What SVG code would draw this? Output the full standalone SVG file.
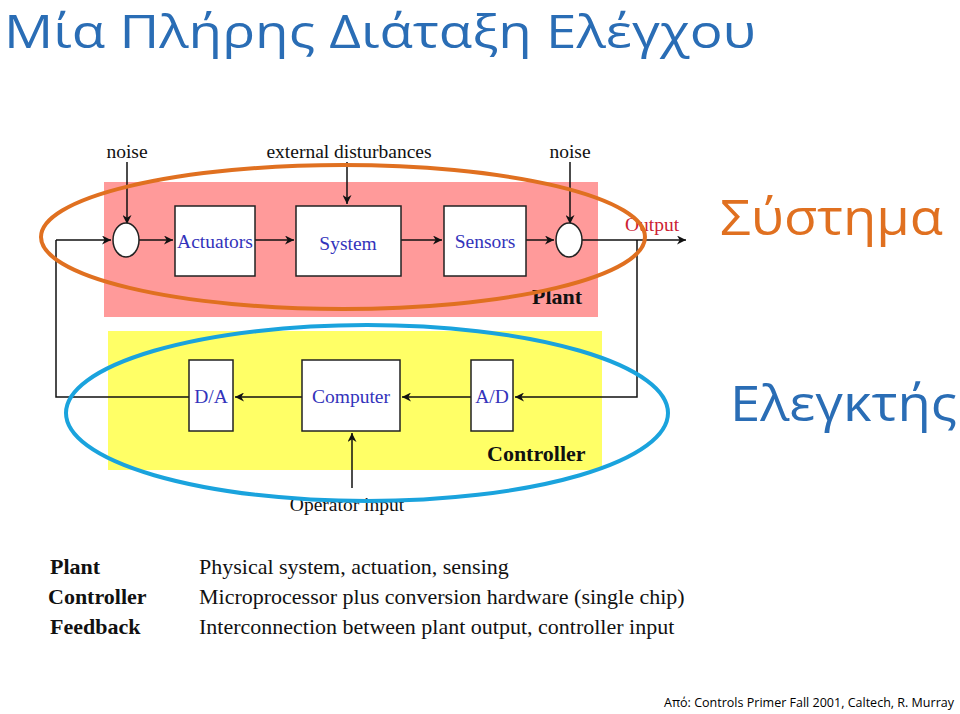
<svg xmlns="http://www.w3.org/2000/svg" width="960" height="714" viewBox="0 0 960 714">
<style>
.blk{fill:#fff;stroke:#222;stroke-width:1.5}
.lbl{font-family:"Liberation Serif",serif;font-size:19.5px;fill:#3333bb;text-anchor:middle}
.sm{font-family:"Liberation Serif",serif;font-size:19.5px;fill:#111;text-anchor:middle}
.bd{font-family:"Liberation Serif",serif;font-size:22px;font-weight:bold;fill:#111}
.tb{font-family:"Liberation Serif",serif;font-size:22px;fill:#111}
.ln{stroke:#111;stroke-width:1.5;fill:none}
.big{font-family:"Open Sans","Liberation Sans",sans-serif}
</style>
<defs>
<marker id="ah" viewBox="0 0 10 10" refX="10" refY="5" markerWidth="9" markerHeight="9" markerUnits="userSpaceOnUse" orient="auto"><path d="M0,0 L10,5 L0,10 L3,5 z" fill="#111"/></marker>
</defs>
<rect width="960" height="714" fill="#fff"/>
<text class="big" x="4" y="48" font-size="46" fill="#2a6db5" textLength="752" lengthAdjust="spacingAndGlyphs">Μία Πλήρης Διάταξη Ελέγχου</text>
<rect x="104" y="182" width="494" height="135" fill="#ff9a9a"/>
<rect x="108" y="331" width="494" height="139" fill="#ffff66"/>
<g id="connectors">
<path class="ln" d="M56,240 H111" marker-end="url(#ah)"/>
<path class="ln" d="M139,240 H173" marker-end="url(#ah)"/>
<path class="ln" d="M255,240 H294" marker-end="url(#ah)"/>
<path class="ln" d="M401,240 H442" marker-end="url(#ah)"/>
<path class="ln" d="M526,240 H554" marker-end="url(#ah)"/>
<path class="ln" d="M582,240 H686" marker-end="url(#ah)"/>
<path class="ln" d="M127,162 V224" marker-end="url(#ah)"/>
<path class="ln" d="M570,162 V224" marker-end="url(#ah)"/>
<path class="ln" d="M347,162 V204" marker-end="url(#ah)"/>
<path class="ln" d="M637,240 V397 H515" marker-end="url(#ah)"/>
<path class="ln" d="M471,397 H402" marker-end="url(#ah)"/>
<path class="ln" d="M302,397 H235" marker-end="url(#ah)"/>
<path class="ln" d="M189,397 H56 V240"/>
<path class="ln" d="M352,488 V433" marker-end="url(#ah)"/>
</g>
<g id="sum1"><ellipse cx="126" cy="240" rx="13" ry="17" class="blk"/></g>
<g id="sum2"><ellipse cx="569" cy="240" rx="13" ry="17" class="blk"/></g>
<g id="actuators"><rect class="blk" x="175" y="206" width="80" height="70"/><text class="lbl" x="215" y="248">Actuators</text></g>
<g id="system"><rect class="blk" x="296" y="206" width="105" height="70"/><text class="lbl" x="348" y="250" font-size="22">System</text></g>
<g id="sensors"><rect class="blk" x="444" y="206" width="82" height="70"/><text class="lbl" x="485" y="248">Sensors</text></g>
<g id="da"><rect class="blk" x="189" y="360" width="44" height="71"/><text class="lbl" x="211" y="403">D/A</text></g>
<g id="computer"><rect class="blk" x="302" y="360" width="98" height="71"/><text class="lbl" x="351" y="403">Computer</text></g>
<g id="ad"><rect class="blk" x="471" y="360" width="42" height="71"/><text class="lbl" x="492" y="403">A/D</text></g>
<text class="sm" x="127" y="158">noise</text>
<text class="sm" x="349" y="158">external disturbances</text>
<text class="sm" x="570" y="158">noise</text>
<text class="sm" x="652" y="231" style="fill:#cc2233">Output</text>
<text class="sm" x="347" y="511">Operator input</text>
<text class="bd" x="532" y="304">Plant</text>
<text class="bd" x="487" y="461">Controller</text>
<ellipse cx="343" cy="237" rx="302" ry="72" fill="none" stroke="#e07020" stroke-width="4"/>
<ellipse cx="367" cy="413" rx="301" ry="88" fill="none" stroke="#1aa3dd" stroke-width="4"/>
<text class="big" x="720" y="235" font-size="50" fill="#e07020" textLength="223" lengthAdjust="spacingAndGlyphs">Σύστημα</text>
<text class="big" x="730" y="421" font-size="50" fill="#2a6db5" textLength="227" lengthAdjust="spacingAndGlyphs">Ελεγκτής</text>
<text class="bd" x="50" y="574">Plant</text>
<text class="bd" x="48" y="604">Controller</text>
<text class="bd" x="50" y="634">Feedback</text>
<text class="tb" x="199" y="574">Physical system, actuation, sensing</text>
<text class="tb" x="199" y="604">Microprocessor plus conversion hardware (single chip)</text>
<text class="tb" x="199" y="634">Interconnection between plant output, controller input</text>
<text x="954" y="707" text-anchor="end" font-family="'Open Sans','Liberation Sans',sans-serif" font-size="13" fill="#000" textLength="290" lengthAdjust="spacingAndGlyphs">Από: Controls Primer Fall 2001, Caltech, R. Murray</text>
</svg>
